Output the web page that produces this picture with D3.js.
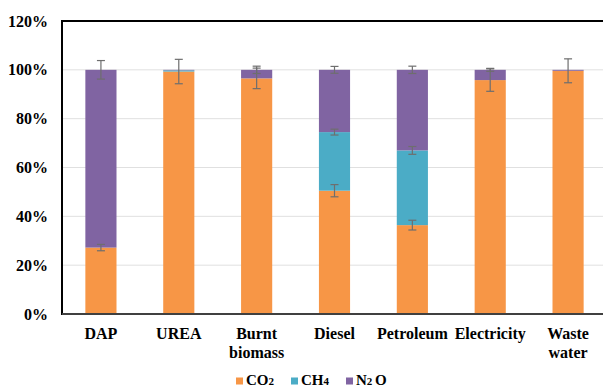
<!DOCTYPE html>
<html>
<head>
<meta charset="utf-8">
<script src="https://cdn.jsdelivr.net/npm/d3@7"></script>
<style>
  html, body { margin: 0; padding: 0; background: #fff; }
  svg { display: block; }
</style>
</head>
<body>
<svg id="chart" width="603" height="387"></svg>
<script>
// Share of each gas (%) in the emissions of each source
const categories = ["DAP", "UREA", "Burnt biomass", "Diesel", "Petroleum", "Electricity", "Waste water"];
const co2 = [27.2, 99.3, 96.5, 50.5, 36.4, 95.8, 99.6];
const ch4 = [0, 0.5, 0, 24.0, 30.6, 0, 0];
const n2o = [72.8, 0.2, 3.5, 25.5, 33.0, 4.2, 0.4];

// Error half-widths (%) shown at the top of each segment
const co2Err = [1.3, 5.0, 4.2, 2.5, 2.0, 4.6, 4.9];
const ch4Err = [0, 0, 0, 1.2, 1.6, 0, 0];
const n2oErr = [3.8, 0, 1.5, 1.4, 1.5, 0.6, 0];

const yTicks = [0, 20, 40, 60, 80, 100, 120];
const seriesNames = ["CO2", "CH4", "N2O"];
const colors = ["#F79646", "#4BACC6", "#8064A2"];

const FONT = "'Liberation Serif', 'Times New Roman', 'DejaVu Serif', serif";

const svg = d3.select("#chart");
const plotLeft = 62, plotRight = 607, plotTop = 21, plotBottom = 314;

const x = d3.scaleBand().domain(categories).range([plotLeft, plotRight]).paddingInner(0.6).paddingOuter(0.3);
const y = d3.scaleLinear().domain([0, 120]).range([plotBottom, plotTop]);

// gridlines
svg.append("g").selectAll("line").data(yTicks.filter(t => t > 0 && t < 120)).join("line")
  .attr("x1", plotLeft).attr("x2", plotRight)
  .attr("y1", d => y(d)).attr("y2", d => y(d))
  .attr("stroke", "#e0e0e0").attr("stroke-width", 1);

// stacked bars
const rows = categories.map((c, i) => ({ cat: c, CO2: co2[i], CH4: ch4[i], N2O: n2o[i] }));
const stack = d3.stack().keys(seriesNames)(rows);
const errs = { CO2: co2Err, CH4: ch4Err, N2O: n2oErr };

svg.append("g").selectAll("g").data(stack).join("g")
  .attr("fill", (d, i) => colors[i])
  .selectAll("rect").data(d => d).join("rect")
  .attr("x", d => x(d.data.cat))
  .attr("width", x.bandwidth())
  .attr("y", d => y(d[1]))
  .attr("height", d => Math.max(0, y(d[0]) - y(d[1])));

// error bars
const errG = svg.append("g").attr("stroke", "#6e6e6e").attr("stroke-width", 1.2);
stack.forEach(layer => {
  layer.forEach((d, i) => {
    const e = errs[layer.key][i];
    if (!e) return;
    const cx = x(d.data.cat) + x.bandwidth() / 2;
    const y1 = y(d[1] + e), y2 = y(d[1] - e);
    errG.append("line").attr("x1", cx).attr("x2", cx).attr("y1", y1).attr("y2", y2);
    errG.append("line").attr("x1", cx - 4).attr("x2", cx + 4).attr("y1", y1).attr("y2", y1);
    errG.append("line").attr("x1", cx - 4).attr("x2", cx + 4).attr("y1", y2).attr("y2", y2);
  });
});

// frame
svg.append("line").attr("x1", plotLeft).attr("x2", plotRight).attr("y1", plotTop).attr("y2", plotTop)
  .attr("stroke", "#000").attr("stroke-width", 2);
svg.append("line").attr("x1", plotLeft).attr("x2", plotLeft).attr("y1", plotTop - 1).attr("y2", plotBottom + 1)
  .attr("stroke", "#000").attr("stroke-width", 2);
svg.append("line").attr("x1", plotLeft).attr("x2", plotRight).attr("y1", plotBottom).attr("y2", plotBottom)
  .attr("stroke", "#404040").attr("stroke-width", 2);

// y axis labels
const yAxis = d3.axisLeft(y).tickValues(yTicks).tickFormat(d => d + "%").tickSize(0).tickPadding(14);
const yg = svg.append("g").attr("transform", `translate(${plotLeft},0)`).call(yAxis)
  .attr("font-family", FONT).attr("font-size", 16).attr("font-weight", "bold");
yg.select(".domain").remove();
yg.selectAll("text").attr("fill", "#000");

// x axis labels (wrapped onto two lines)
const xg = svg.append("g").attr("font-family", FONT).attr("font-size", 16).attr("font-weight", "bold");
categories.forEach(c => {
  const cx = x(c) + x.bandwidth() / 2;
  const words = c.split(" ");
  const t = xg.append("text").attr("x", cx).attr("y", 339).attr("text-anchor", "middle").attr("fill", "#000");
  words.forEach((w, k) => {
    t.append("tspan").attr("x", cx).attr("dy", k === 0 ? 0 : 19).text(w);
  });
});

// legend
const legendItems = [
  { x: 236, parts: [["CO", 0], ["2", 1]] },
  { x: 291, parts: [["CH", 0], ["4", 1]] },
  { x: 346, parts: [["N", 0], ["2", 1], ["O", 0]] }
];
const lg = svg.append("g").attr("font-family", FONT).attr("font-weight", "bold");
legendItems.forEach((it, i) => {
  lg.append("rect").attr("x", it.x).attr("y", 377.5).attr("width", 7).attr("height", 7)
    .attr("fill", colors[i]);
  const t = lg.append("text").attr("x", it.x + 10).attr("y", 385).attr("fill", "#000");
  it.parts.forEach(([s, sub]) => {
    t.append("tspan").attr("font-size", sub ? 11 : 15).text(sub ? s + " " : s);
  });
});
</script>
</body>
</html>
